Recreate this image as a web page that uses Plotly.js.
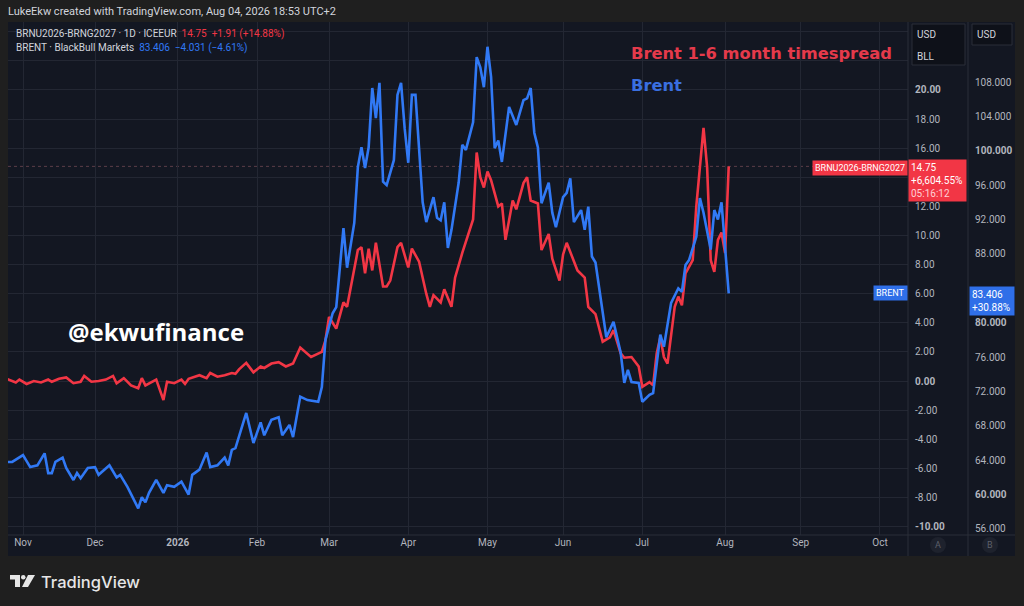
<!DOCTYPE html>
<html><head><meta charset="utf-8">
<script src="https://cdn.plot.ly/plotly-3.0.1.min.js"></script>
<style>html,body{margin:0;padding:0;background:#1f1f1f;overflow:hidden}#chart{width:1024px;height:606px}</style>
</head><body><div id="chart"></div>
<script>
// ---- data ----
const spreadDates = ['2025-10-27','2025-10-30','2025-10-31','2025-11-04','2025-11-06','2025-11-10','2025-11-12','2025-11-13','2025-11-17','2025-11-19','2025-11-21','2025-11-25','2025-11-26','2025-11-28','2025-12-02','2025-12-04','2025-12-08','2025-12-09','2025-12-11','2025-12-15','2025-12-17','2025-12-18','2025-12-19','2025-12-23','2025-12-24','2025-12-26','2025-12-29','2025-12-31','2026-01-02','2026-01-05','2026-01-06','2026-01-09','2026-01-13','2026-01-14','2026-01-16','2026-01-20','2026-01-22','2026-01-23','2026-01-26','2026-01-28','2026-01-30','2026-02-03','2026-02-04','2026-02-06','2026-02-10','2026-02-12','2026-02-16','2026-02-18','2026-02-23','2026-02-26','2026-02-27','2026-03-02','2026-03-04','2026-03-06','2026-03-09','2026-03-12','2026-03-13','2026-03-16','2026-03-17','2026-03-18','2026-03-19','2026-03-23','2026-03-24','2026-03-25','2026-03-27','2026-03-30','2026-04-01','2026-04-02','2026-04-06','2026-04-08','2026-04-09','2026-04-10','2026-04-14','2026-04-15','2026-04-17','2026-04-20','2026-04-22','2026-04-27','2026-04-28','2026-04-29','2026-04-30','2026-05-01','2026-05-04','2026-05-06','2026-05-07','2026-05-08','2026-05-12','2026-05-13','2026-05-15','2026-05-18','2026-05-19','2026-05-21','2026-05-22','2026-05-26','2026-05-27','2026-05-29','2026-06-01','2026-06-02','2026-06-05','2026-06-09','2026-06-10','2026-06-12','2026-06-16','2026-06-18','2026-06-19','2026-06-23','2026-06-24','2026-06-26','2026-06-29','2026-06-30','2026-07-01','2026-07-03','2026-07-06','2026-07-07','2026-07-08','2026-07-09','2026-07-10','2026-07-14','2026-07-15','2026-07-16','2026-07-17','2026-07-21','2026-07-22','2026-07-24','2026-07-27','2026-07-28','2026-07-29','2026-07-30','2026-07-31','2026-08-03','2026-08-04'];
const spreadValues = [0.2,-0.1,0.1,-0.2,0.0,-0.1,0.1,-0.05,0.15,0.25,-0.15,-0.05,0.35,-0.05,0.0,0.1,0.35,-0.15,0.2,-0.3,-0.5,0.2,-0.3,-0.05,0.1,-1.3,-0.05,-0.15,0.1,-0.2,0.15,0.4,0.2,0.55,0.3,0.4,0.55,0.5,0.8,1.25,0.6,1.0,0.9,1.2,1.3,1.0,1.2,2.3,1.65,2.0,2.8,4.4,3.6,5.4,5.1,9.0,9.2,7.4,9.1,7.6,9.5,6.5,6.5,6.9,9.2,9.5,7.8,9.1,8.2,6.0,5.1,5.9,5.4,6.3,5.1,7.1,8.8,11.1,15.7,14.0,13.3,14.4,13.8,12.0,12.2,9.7,12.4,11.8,13.6,14.0,12.4,12.2,9.0,10.1,8.4,6.9,8.7,9.5,7.6,7.1,5.1,4.6,2.7,3.0,3.5,1.9,1.6,1.65,1.3,1.0,-0.4,-0.07,-0.3,1.9,3.0,1.65,1.2,5.1,5.8,5.2,7.4,8.3,12.0,17.4,14.7,8.3,7.5,9.7,10.2,8.8,14.75];

const brentDates = ['2025-10-27','2025-10-29','2025-11-03','2025-11-05','2025-11-07','2025-11-11','2025-11-12','2025-11-13','2025-11-14','2025-11-18','2025-11-19','2025-11-21','2025-11-24','2025-11-25','2025-11-27','2025-12-01','2025-12-02','2025-12-05','2025-12-09','2025-12-10','2025-12-12','2025-12-17','2025-12-18','2025-12-19','2025-12-22','2025-12-24','2025-12-26','2025-12-29','2025-12-31','2026-01-02','2026-01-06','2026-01-07','2026-01-09','2026-01-13','2026-01-14','2026-01-16','2026-01-20','2026-01-21','2026-01-22','2026-01-23','2026-01-28','2026-01-30','2026-02-03','2026-02-04','2026-02-06','2026-02-10','2026-02-11','2026-02-13','2026-02-16','2026-02-18','2026-02-20','2026-02-25','2026-02-26','2026-02-27','2026-03-03','2026-03-04','2026-03-06','2026-03-09','2026-03-11','2026-03-12','2026-03-13','2026-03-16','2026-03-17','2026-03-18','2026-03-19','2026-03-20','2026-03-23','2026-03-24','2026-03-26','2026-03-27','2026-03-30','2026-03-31','2026-04-01','2026-04-02','2026-04-03','2026-04-07','2026-04-08','2026-04-10','2026-04-13','2026-04-14','2026-04-15','2026-04-16','2026-04-17','2026-04-21','2026-04-22','2026-04-23','2026-04-27','2026-04-28','2026-04-29','2026-04-30','2026-05-01','2026-05-04','2026-05-05','2026-05-06','2026-05-07','2026-05-11','2026-05-13','2026-05-15','2026-05-18','2026-05-19','2026-05-20','2026-05-21','2026-05-22','2026-05-26','2026-05-27','2026-05-28','2026-06-01','2026-06-02','2026-06-03','2026-06-04','2026-06-08','2026-06-09','2026-06-10','2026-06-11','2026-06-12','2026-06-16','2026-06-17','2026-06-19','2026-06-23','2026-06-24','2026-06-25','2026-06-26','2026-06-30','2026-07-01','2026-07-03','2026-07-06','2026-07-08','2026-07-09','2026-07-13','2026-07-15','2026-07-16','2026-07-17','2026-07-20','2026-07-22','2026-07-23','2026-07-24','2026-07-28','2026-07-29','2026-07-30','2026-07-31','2026-08-03','2026-08-04'];
const brentValues = [63.8,63.8,64.6,63.2,63.4,64.8,62.5,62.5,63.8,64.3,63.1,61.7,62.5,61.9,63.1,63.2,62.3,63.4,62.0,62.3,60.9,58.4,59.7,59.1,60.2,61.7,60.2,61.1,60.9,61.5,60.0,62.3,62.9,64.9,63.2,63.4,64.3,63.4,65.2,65.4,69.5,66.0,68.4,66.9,68.7,69.0,66.9,68.1,66.7,71.4,71.0,70.8,72.5,78.0,81.1,81.8,91.0,86.4,91.6,98.1,100.4,98.0,100.4,107.3,103.8,107.9,96.4,96.0,98.9,106.5,107.9,102.6,98.6,106.5,106.5,94.0,91.7,94.6,92.2,91.9,94.0,88.7,90.8,96.3,100.7,100.1,103.3,110.9,109.7,107.4,112.1,108.6,100.3,101.2,98.7,105.1,103.0,105.9,106.1,107.3,102.1,100.4,93.9,96.3,92.8,91.1,94.6,95.1,96.8,91.7,93.1,90.8,93.5,87.7,87.0,81.5,78.3,80.1,76.5,73.0,74.5,73.1,73.0,70.8,71.6,71.8,78.6,77.2,82.3,84.0,83.6,86.7,87.3,90.0,94.5,92.8,88.5,93.1,92.0,94.0,88.2,83.406];

const monthTicks = ['2025-11-03','2025-12-01','2026-01-01','2026-02-02','2026-03-02','2026-04-01','2026-05-01','2026-06-01','2026-07-01','2026-08-03','2026-09-01','2026-10-01'];
const monthLabels = ['Nov','Dec','2026','Feb','Mar','Apr','May','Jun','Jul','Aug','Sep','Oct'];
const spreadTicks = [-10,-8,-6,-4,-2,0,2,4,6,8,10,12,14,16,18,20,22,24];
const brentTicks = [56,60,64,68,72,76,80,84,88,92,96,100,104,108,112];
const spreadBold = [-10,0,20];
const brentBold = [60,80,100];
// tick labels hidden behind the price / currency boxes in the reference
const spreadHidden = [14,22,24];
const brentHidden = [84,112];

// ---- layout helpers (pixel -> paper for decorations) ----
const PL = 8, PR = 1015, PT = 22, PB = 556;
const px = x => (x - PL) / (PR - PL);
const py = y => (PB - y) / (PB - PT);

const RED = '#f23645', BLUE = '#3179f5';
const TXT = '#d1d4dc', DIM = '#b2b5be';
const GRID = '#232733', SEP = '#2a2e39', PANEL = '#131722';
const FONT = 'Roboto, "Liberation Sans", sans-serif';

const lastSpread = spreadValues[spreadValues.length - 1];
const lastBrent = brentValues[brentValues.length - 1];

const spreadText = spreadTicks.map(v => {
  if (spreadHidden.includes(v)) return '';
  const s = v.toFixed(2);
  return spreadBold.includes(v) ? '<b>' + s + '</b>' : s;
});
const brentText = brentTicks.map(v => {
  if (brentHidden.includes(v)) return '';
  const s = v.toFixed(3);
  return brentBold.includes(v) ? '<b>' + s + '</b>' : s;
});
const xText = monthLabels.map(l => /^\d+$/.test(l) ? '<b>' + l + '</b>' : l);

const traces = [
  {x: spreadDates, y: spreadValues, type: 'scatter', mode: 'lines', yaxis: 'y',
   line: {color: RED, width: 2.6}, name: 'BRNU2026-BRNG2027'},
  {x: brentDates, y: brentValues, type: 'scatter', mode: 'lines', yaxis: 'y2',
   line: {color: BLUE, width: 2.6}, name: 'BRENT'}
];

const xEnd = px(908);

const shapes = [
  {type: 'rect', xref: 'paper', yref: 'paper', x0: 0, x1: 1, y0: 0, y1: 1, fillcolor: PANEL, line: {width: 0}, layer: 'below'},
  {type: 'line', xref: 'paper', yref: 'paper', x0: px(908), x1: px(908), y0: 0, y1: 1, line: {color: SEP, width: 1}, layer: 'above'},
  {type: 'line', xref: 'paper', yref: 'paper', x0: px(968), x1: px(968), y0: 0, y1: 1, line: {color: SEP, width: 1}, layer: 'above'},
  {type: 'line', xref: 'paper', yref: 'paper', x0: 0, x1: 1, y0: py(535), y1: py(535), line: {color: SEP, width: 1}, layer: 'above'},
  {type: 'line', xref: 'paper', yref: 'y', x0: 0, x1: xEnd, y0: lastSpread, y1: lastSpread, line: {color: 'rgba(200,120,130,0.4)', width: 1, dash: 'dot'}, layer: 'below'},
  {type: 'rect', xref: 'paper', yref: 'paper', x0: px(912), x1: px(965), y0: py(65), y1: py(24), fillcolor: '#0e1119', line: {color: SEP, width: 1}, layer: 'above'},
  {type: 'rect', xref: 'paper', yref: 'paper', x0: px(972), x1: px(1012), y0: py(45), y1: py(24), fillcolor: '#0e1119', line: {color: SEP, width: 1}, layer: 'above'},
  {type: 'circle', xref: 'paper', yref: 'paper', x0: px(930), x1: px(946), y0: py(553), y1: py(537), fillcolor: '#1e222d', line: {width: 0}, layer: 'above'},
  {type: 'circle', xref: 'paper', yref: 'paper', x0: px(982), x1: px(998), y0: py(553), y1: py(537), fillcolor: '#1e222d', line: {width: 0}, layer: 'above'},
  // TradingView logo
  {type: 'rect', xref: 'paper', yref: 'paper', x0: px(10), x1: px(20), y0: py(579.5), y1: py(575), fillcolor: '#e6e6e6', line: {width: 0}},
  {type: 'rect', xref: 'paper', yref: 'paper', x0: px(15), x1: px(20), y0: py(587), y1: py(579), fillcolor: '#e6e6e6', line: {width: 0}},
  {type: 'circle', xref: 'paper', yref: 'paper', x0: px(21), x1: px(25.5), y0: py(579.5), y1: py(575), fillcolor: '#e6e6e6', line: {width: 0}},
  {type: 'path', xref: 'paper', yref: 'paper',
   path: 'M ' + px(28) + ',' + py(575) + ' L ' + px(35) + ',' + py(575) + ' L ' + px(28) + ',' + py(587) + ' L ' + px(22) + ',' + py(587) + ' Z',
   fillcolor: '#e6e6e6', line: {width: 0}}
];

const ann = (o) => Object.assign({xref: 'paper', yref: 'paper', showarrow: false, xanchor: 'left', yanchor: 'middle'}, o);

const annotations = [
  ann({x: px(6), y: py(12), text: 'LukeEkw created with TradingView.com, Aug 04, 2026 18:53 UTC+2', font: {family: FONT, size: 11, color: TXT}}),
  ann({x: px(14), y: py(34), text: 'BRNU2026-BRNG2027 · 1D · ICEEUR  <span style="color:' + RED + '">14.75  +1.91 (+14.88%)</span>', font: {family: FONT, size: 10, color: TXT}}),
  ann({x: px(14), y: py(48), text: 'BRENT · BlackBull Markets  <span style="color:' + BLUE + '">83.406  −4.031 (−4.61%)</span>', font: {family: FONT, size: 10, color: TXT}}),
  ann({x: px(629), y: py(53), text: '<b>Brent 1-6 month timespread</b>', font: {family: '"DejaVu Sans", sans-serif', size: 16.3, color: '#e53a4b'}}),
  ann({x: px(629), y: py(86), text: '<b>Brent</b>', font: {family: '"DejaVu Sans", sans-serif', size: 16.3, color: '#3a6fe0'}}),
  ann({x: px(66), y: py(331), text: '<b>@ekwufinance</b>', font: {family: '"Open Sans", sans-serif', size: 24, color: '#ffffff'}}),
  ann({x: px(915), y: py(35), text: 'USD', font: {family: FONT, size: 10, color: TXT}}),
  ann({x: px(915), y: py(56), text: 'BLL', font: {family: FONT, size: 10, color: TXT}}),
  ann({x: px(975), y: py(35), text: 'USD', font: {family: FONT, size: 10, color: TXT}}),
  ann({x: px(938), y: py(545), xanchor: 'center', text: 'A', font: {family: FONT, size: 9, color: '#5d606b'}}),
  ann({x: px(990), y: py(545), xanchor: 'center', text: 'B', font: {family: FONT, size: 9, color: '#5d606b'}}),
  // price labels
  ann({x: px(908), y: lastSpread, yref: 'y', xanchor: 'left', yanchor: 'top', yshift: 7,
       text: '14.75<br>+6,604.55%<br><span style="color:#ffd0d5">05:16:12</span>', align: 'left',
       bgcolor: RED, borderpad: 2, width: 53, font: {family: FONT, size: 10, color: '#ffffff'}}),
  ann({x: px(908), y: lastSpread, yref: 'y', xanchor: 'right', yanchor: 'middle', yshift: -2,
       text: 'BRNU2026-BRNG2027', bgcolor: RED, borderpad: 2, font: {family: FONT, size: 9, color: '#ffffff'}}),
  ann({x: px(969), y: lastBrent, yref: 'y2', xanchor: 'left', yanchor: 'top', yshift: 7,
       text: '83.406<br>+30.88%', align: 'left', bgcolor: '#2f6fe8', borderpad: 2, width: 40,
       font: {family: FONT, size: 10, color: '#ffffff'}}),
  ann({x: px(908), y: lastBrent, yref: 'y2', xanchor: 'right', yanchor: 'middle',
       text: 'BRENT', bgcolor: '#2f6fe8', borderpad: 2, font: {family: FONT, size: 9, color: '#ffffff'}}),
  // footer
  ann({x: px(39), y: py(582), text: 'TradingView', font: {family: 'Inter, "Open Sans", sans-serif', size: 16.5, color: '#e6e6e6', weight: 500}})
];

const layout = {
  width: 1024, height: 606,
  paper_bgcolor: '#1f1f1f', plot_bgcolor: 'rgba(0,0,0,0)',
  margin: {l: PL, r: 1024 - PR, t: PT, b: 606 - PB, pad: 0},
  showlegend: false, hovermode: false,
  font: {family: FONT, color: DIM, size: 10},
  xaxis: {
    type: 'date', domain: [0, xEnd],
    range: ['2025-10-27 20:00', '2026-10-12 19:00'],
    rangebreaks: [{bounds: ['sat', 'mon']}],
    tickvals: monthTicks, ticktext: xText,
    showgrid: true, gridcolor: GRID, gridwidth: 1,
    zeroline: false, showline: false, ticks: '',
    tickfont: {family: FONT, size: 10, color: DIM}
  },
  yaxis: {
    domain: [py(535), 1], range: [-10.58, 24.67],
    side: 'right', anchor: 'free', position: px(908),
    tickvals: spreadTicks, ticktext: spreadText,
    showgrid: true, gridcolor: GRID, gridwidth: 1,
    zeroline: false, showline: false, ticks: '', ticklabelstandoff: 6,
    tickfont: {family: FONT, size: 10, color: DIM}
  },
  yaxis2: {
    domain: [py(535), 1], range: [55.30, 114.98], overlaying: 'y',
    side: 'right', anchor: 'free', position: px(968),
    tickvals: brentTicks, ticktext: brentText,
    showgrid: false, zeroline: false, showline: false, ticks: '', ticklabelstandoff: 6,
    tickfont: {family: FONT, size: 10, color: DIM}
  },
  shapes: shapes,
  annotations: annotations
};

Plotly.newPlot('chart', traces, layout, {staticPlot: true, displayModeBar: false});
</script>
</body></html>
